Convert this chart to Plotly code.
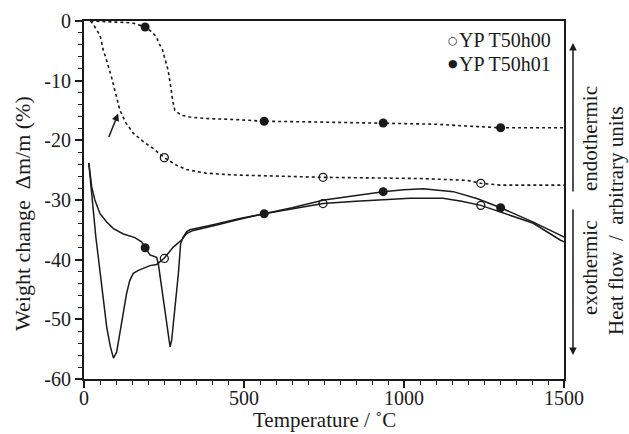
import plotly.graph_objects as go

# ---- data ----
# Weight change (TG), dotted curves
tg_h00_T = [20, 27, 34, 50, 55, 60, 69, 86, 100, 112, 130, 154, 185, 217, 251, 290, 321, 380, 467, 600, 747, 900, 1050, 1196, 1240, 1300, 1400, 1500]
tg_h00_W = [0, -0.4, -1.0, -2.4, -3.5, -4.9, -6.3, -9.4, -12.4, -14.9, -17.0, -18.8, -20.2, -21.4, -22.9, -24.2, -24.9, -25.5, -25.8, -26.0, -26.2, -26.3, -26.4, -26.7, -27.2, -27.5, -27.5, -27.5]

tg_h01_T = [20, 100, 150, 191, 211, 227, 232, 245, 253, 263, 271, 277, 284, 305, 331, 383, 467, 563, 700, 935, 1100, 1196, 1302, 1400, 1500]
tg_h01_W = [0, -0.2, -0.3, -1.0, -1.8, -2.7, -3.5, -4.8, -6.2, -8.3, -11.0, -13.3, -15.0, -15.8, -16.1, -16.35, -16.5, -16.8, -16.9, -17.1, -17.3, -17.6, -17.9, -17.9, -17.9]

# Heat flow (DTA), solid curves, arbitrary units
dta_h00_T = [15, 22, 29, 37, 42, 50, 60, 71, 82, 92, 102, 112, 122, 133, 143, 154, 170, 185, 206, 227, 232, 250, 279, 305, 321, 342, 415, 480, 563, 650, 747, 850, 950, 1019, 1122, 1180, 1240, 1300, 1404, 1488, 1500]
dta_h00_H = [-23.8, -27.2, -31.7, -36.2, -38.4, -42.9, -47.0, -51.3, -54.5, -56.5, -55.5, -52.4, -49.0, -45.7, -43.5, -42.3, -41.8, -41.5, -41.0, -40.8, -40.6, -39.8, -37.9, -36.7, -35.6, -35.1, -34.2, -33.3, -32.3, -31.5, -30.6, -30.2, -29.9, -29.7, -29.7, -30.2, -30.9, -32.0, -33.9, -36.7, -37.0]

dta_h01_T = [15, 24, 34, 50, 71, 92, 123, 159, 180, 191, 206, 227, 232, 238, 253, 264, 269, 274, 284, 295, 302, 310, 321, 331, 400, 480, 563, 650, 750, 880, 935, 1000, 1060, 1154, 1230, 1302, 1404, 1488, 1500]
dta_h01_H = [-23.8, -27.8, -30.0, -32.3, -33.7, -34.8, -35.7, -36.3, -37.0, -38.0, -39.2, -39.6, -40.6, -42.9, -48.5, -52.9, -54.6, -53.5, -48.5, -42.3, -37.3, -36.2, -35.3, -35.0, -34.2, -33.2, -32.3, -31.3, -30.0, -29.0, -28.6, -28.3, -28.1, -28.6, -29.8, -31.3, -33.7, -35.9, -36.2]

# Marker positions (symbols identify the samples)
mk_h00_T = [251, 747, 1240]
mk_h00_tg = [-22.9, -26.2, -27.2]
mk_h00_dta = [-39.8, -30.6, -30.9]
mk_h01_T = [191, 563, 935, 1302]
mk_h01_tg = [-1.0, -16.8, -17.1, -17.9]
mk_h01_dta = [-38.0, -32.3, -28.6, -31.3]

series_names = ["YP T50h00", "YP T50h01"]
legend_glyphs = ["○", "●"]
x_ticks = [0, 500, 1000, 1500]
y_ticks = [-60, -50, -40, -30, -20, -10, 0]
y_tick_text = ["-60", "-50", "-40", "-30", "-20", "-10", "0"]

INK = "#1a1a1a"
FONT = "Liberation Serif"

fig = go.Figure()

# TG curves
for xs, ys in [(tg_h00_T, tg_h00_W), (tg_h01_T, tg_h01_W)]:
    fig.add_trace(go.Scatter(x=xs, y=ys, mode="lines", line=dict(color=INK, width=1.6, dash="dot"),
                             showlegend=False, hoverinfo="skip"))
# DTA curves
for xs, ys in [(dta_h00_T, dta_h00_H), (dta_h01_T, dta_h01_H)]:
    fig.add_trace(go.Scatter(x=xs, y=ys, mode="lines", line=dict(color=INK, width=1.5),
                             showlegend=False, hoverinfo="skip", yaxis="y2"))

# markers
open_marker = dict(symbol="circle-open", size=8, color=INK, line=dict(width=1.3, color=INK))
fill_marker = dict(symbol="circle", size=9, color=INK)
fig.add_trace(go.Scatter(x=mk_h00_T, y=mk_h00_tg, mode="markers", marker=open_marker,
                         name=series_names[0], showlegend=False))
fig.add_trace(go.Scatter(x=mk_h01_T, y=mk_h01_tg, mode="markers", marker=fill_marker,
                         name=series_names[1], showlegend=False))
fig.add_trace(go.Scatter(x=mk_h00_T, y=mk_h00_dta, mode="markers", marker=open_marker,
                         name=series_names[0], showlegend=False, yaxis="y2"))
fig.add_trace(go.Scatter(x=mk_h01_T, y=mk_h01_dta, mode="markers", marker=fill_marker,
                         name=series_names[1], showlegend=False, yaxis="y2"))

axis_common = dict(showline=True, linecolor=INK, linewidth=2, showgrid=False, zeroline=False,
                   automargin=False,
                   ticks="outside", tickcolor=INK, tickwidth=1.5, ticklen=7,
                   tickfont=dict(family=FONT, size=20, color=INK))

fig.update_layout(
    width=629, height=434,
    margin=dict(l=84, r=65, t=21, b=55),
    paper_bgcolor="white", plot_bgcolor="white",
    font=dict(family=FONT, size=20, color=INK),
    xaxis=dict(range=[0, 1500], tickvals=x_ticks, mirror=True, ticklabelstandoff=-7,
               minor=dict(dtick=50, ticks="outside", ticklen=4, tickcolor=INK, tickwidth=1.2),
               **axis_common),
    yaxis=dict(range=[-60, 0], tickvals=y_ticks, ticktext=y_tick_text, mirror=True, ticklabelstandoff=0,
               minor=dict(dtick=2, ticks="outside", ticklen=4, tickcolor=INK, tickwidth=1.2),
               **axis_common),
    yaxis2=dict(range=[-60, 0], overlaying="y", side="right", showticklabels=False, ticks="",
                showgrid=False, zeroline=False, showline=False, automargin=False),
    showlegend=False,
)

# axis titles (placed as text to match the reference positions)
fig.add_annotation(x=0.5, y=(379 - 420) / 358, xref="paper", yref="paper", text="Temperature / ˚C",
                   showarrow=False, xanchor="center", yanchor="middle",
                   font=dict(family=FONT, size=21, color=INK))
fig.add_annotation(x=(22 - 84) / 480, y=(379 - 214) / 358, xref="paper", yref="paper",
                   text="Weight change  Δm/m (%)", textangle=-90, showarrow=False,
                   xanchor="center", yanchor="middle", font=dict(family=FONT, size=22, color=INK))

# legend drawn as text
legend_rows_y = [(379 - 40) / 358, (379 - 63.5) / 358]
for glyph, name, yy in zip(legend_glyphs, series_names, legend_rows_y):
    fig.add_annotation(x=(453 - 84) / 480, y=yy, xref="paper", yref="paper", text=glyph, showarrow=False,
                       xanchor="center", yanchor="middle", font=dict(family="DejaVu Sans", size=11, color=INK))
    fig.add_annotation(x=(457 - 84) / 480, y=yy, xref="paper", yref="paper", text=name, showarrow=False,
                       xanchor="left", yanchor="middle", font=dict(family=FONT, size=20, color=INK))

# arrow pointing at the TG step
fig.add_annotation(x=107, y=-15.5, xref="x", yref="y", ax=-10, ay=25, text="", showarrow=True,
                   arrowhead=2, arrowsize=1, arrowwidth=1.5, arrowcolor=INK)

# endo / exo arrows on the right
fig.add_annotation(x=1.01875, y=0.9385, xref="paper", yref="paper", ax=0, ay=150, text="",
                   showarrow=True, arrowhead=2, arrowsize=1, arrowwidth=1.5, arrowcolor=INK)
fig.add_annotation(x=1.01875, y=0.067, xref="paper", yref="paper", ax=0, ay=-147, text="",
                   showarrow=True, arrowhead=2, arrowsize=1, arrowwidth=1.5, arrowcolor=INK)
fig.add_annotation(x=1.054, y=0.673, xref="paper", yref="paper", text="endothermic", textangle=-90,
                   xanchor="center", yanchor="middle",
                   showarrow=False, font=dict(family=FONT, size=21, color=INK))
fig.add_annotation(x=1.054, y=0.31, xref="paper", yref="paper", text="exothermic", textangle=-90,
                   xanchor="center", yanchor="middle",
                   showarrow=False, font=dict(family=FONT, size=21, color=INK))
fig.add_annotation(x=(616 - 84) / 480, y=(379 - 221) / 358, xref="paper", yref="paper",
                   text="Heat flow  /  arbitrary units",
                   textangle=-90, xanchor="center", yanchor="middle",
                   showarrow=False, font=dict(family=FONT, size=21, color=INK))

fig.write_html("out.html")
